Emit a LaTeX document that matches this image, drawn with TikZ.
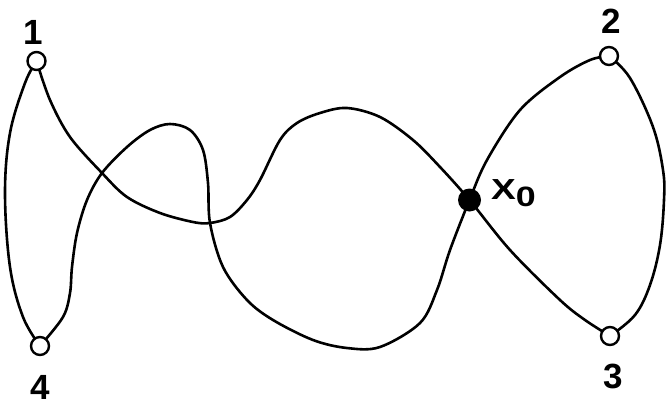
\documentclass[tikz,border=0pt]{standalone}
\usepackage{fontspec}
\setmainfont{Liberation Sans}
\usetikzlibrary{backgrounds}
\tikzset{
  vtx/.style={circle, draw, fill=white, minimum size=18pt, inner sep=0pt, line width=2.4pt},
  hub/.style={circle, fill=black, minimum size=23pt, inner sep=0pt},
  lbl/.style={font=\fontsize{35}{38}\selectfont\bfseries, inner sep=0pt},
  curve/.style={line width=2.6pt, line cap=round, line join=round},
}
\begin{document}
\begin{tikzpicture}[x=1pt, y=-1pt]
\useasboundingbox (0,0) rectangle (666,407);
\node[vtx] (n1) at (36.5,61) {};
\node[vtx] (n2) at (609,56) {};
\node[vtx] (n3) at (610,336) {};
\node[vtx] (n4) at (40,346) {};
\node[hub] (x0) at (469.5,200) {};
\node[lbl] (l1) at (33,32) {1};
\node[lbl] (l2) at (611,21) {2};
\node[lbl] (l3) at (613,376) {3};
\node[lbl] (l4) at (40,387) {4};
\node[inner sep=0pt, anchor=west] (lx) at (491,193) {\scalebox{1.28}[1]{\fontsize{29}{30}\selectfont\bfseries X\raisebox{-7pt}{\fontsize{28}{30}\selectfont 0}}};
\begin{pgfonlayer}{background}
% left arc 1 -- 4
\draw[curve] plot[smooth, tension=0.6] coordinates {(n1.center) (25,83) (10,133) (5,193) (10,267) (23,317) (n4.center)};
% right arc 2 -- 3
\draw[curve] plot[smooth, tension=0.6] coordinates {(n2.center) (630,78) (653,127) (663,170) (664,200) (660,245) (650,285) (635,315) (n3.center)};
% 1 -> x0 -> 3
\draw[curve] plot[smooth, tension=0.55] coordinates {(n1.center) (50,100) (70,137) (102,173) (127,197) (160,213) (193,222) (210,223) (230,217) (247,200) (260,180) (280,140) (297,123) (320,113) (347,108) (380,117) (413,140) (440,167) (x0.center) (510,250) (560,300) (585,320) (n3.center)};
% 4 -> x0 -> 2
\draw[curve] plot[smooth, tension=0.55] coordinates {(n4.center) (63,317) (70,293) (72,267) (77,233) (87,200) (102,173) (127,147) (150,130) (170,124) (190,130) (203,150) (208,183) (210,223) (223,267) (247,300) (273,320) (313,340) (347,348) (380,347) (420,323) (437,290) (450,250) (x0.center) (487,160) (520,110) (560,77) (590,60) (n2.center)};
\end{pgfonlayer}
\end{tikzpicture}
\end{document}
